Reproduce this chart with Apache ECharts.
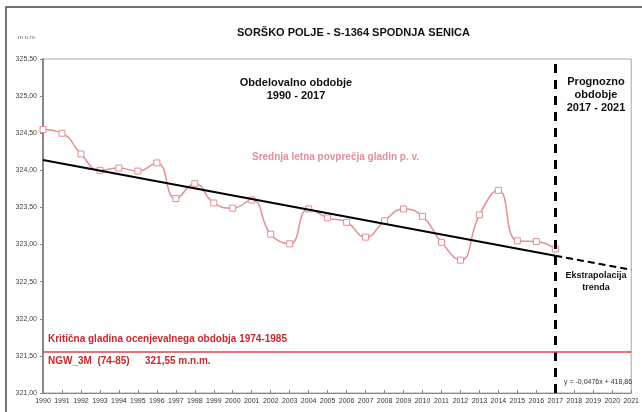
<!DOCTYPE html>
<html>
<head>
<meta charset="utf-8">
<script src="https://cdn.jsdelivr.net/npm/echarts@6/dist/echarts.min.js"></script>
<style>
  html, body { margin: 0; padding: 0; background: #fff; }
  #chart { width: 642px; height: 412px; }
</style>
</head>
<body>
<div id="chart"></div>
<script>
// yearly mean groundwater level, m n.m.
var years = [1990, 1991, 1992, 1993, 1994, 1995, 1996, 1997, 1998, 1999, 2000, 2001, 2002, 2003, 2004,
             2005, 2006, 2007, 2008, 2009, 2010, 2011, 2012, 2013, 2014, 2015, 2016, 2017];
var levels = [324.55, 324.50, 324.22, 324.00, 324.03, 323.99, 324.10, 323.62, 323.82, 323.56, 323.49, 323.60, 323.14, 323.01, 323.48,
              323.36, 323.30, 323.10, 323.32, 323.48, 323.38, 323.03, 322.79, 323.40, 323.73, 323.05, 323.04, 322.94];

// trend (y = -0,0476x + 418,86) and its extrapolation
var trendYears = [1990, 2017];
var trendValues = [324.14, 322.85];
var extYears = [2017, 2021];
var extValues = [322.85, 322.66];

var criticalLevel = 321.55;
var splitYear = 2017;

function pairs(xs, ys) {
    return xs.map(function (x, i) { return [x, ys[i]]; });
}

var font = '"Liberation Sans", Arial, sans-serif';
var pink = '#e58f95';
var red = '#c8282e';

var chart = echarts.init(document.getElementById('chart'));

var option = {
    animation: false,
    backgroundColor: '#fff',
    textStyle: { fontFamily: font },
    grid: {
        left: 43, right: 9, top: 59, bottom: 19,
        show: true, borderColor: '#a8a8a8', borderWidth: 1
    },
    xAxis: {
        type: 'value',
        min: 1990, max: 2021, interval: 1,
        splitLine: { show: false },
        axisLine: { lineStyle: { color: '#888', width: 1 } },
        axisTick: { show: true, inside: true, length: 3, lineStyle: { color: '#888' } },
        axisLabel: { fontSize: 7, color: '#333', margin: 5, formatter: function (v) { return String(v); } }
    },
    yAxis: {
        type: 'value',
        min: 321, max: 325.5, interval: 0.5,
        splitLine: { show: false },
        axisLine: { show: true, lineStyle: { color: '#888', width: 2 } },
        axisTick: { show: true, length: 3, lineStyle: { color: '#888' } },
        axisLabel: {
            fontSize: 7, color: '#444', margin: 6,
            formatter: function (v) { return v.toFixed(2).replace('.', ','); }
        }
    },
    series: [
        {
            type: 'line',
            data: pairs(trendYears, trendValues),
            symbol: 'none',
            lineStyle: { color: '#000', width: 2 },
            z: 3
        },
        {
            type: 'line',
            data: pairs(extYears, extValues),
            symbol: 'none',
            lineStyle: { color: '#000', width: 2, type: [7, 4] },
            z: 3
        },
        {
            type: 'line',
            data: pairs(years, levels),
            smooth: 0.5,
            symbol: 'rect',
            symbolSize: 6,
            itemStyle: { color: '#fff', borderColor: pink, borderWidth: 1 },
            lineStyle: { color: pink, width: 1.5 },
            z: 2,
            markLine: {
                silent: true,
                symbol: 'none',
                label: { show: false },
                data: [
                    { xAxis: splitYear, lineStyle: { color: '#000', width: 3, type: [9, 7] } },
                    { yAxis: criticalLevel, lineStyle: { color: '#d9464c', width: 1.5, type: 'solid' } }
                ]
            }
        }
    ],
    graphic: [
        { type: 'rect', shape: { x: 6, y: 7, width: 660, height: 420 }, style: { fill: 'none', stroke: '#444', lineWidth: 1.5 }, silent: true },
        { type: 'text', left: 237, top: 27, style: { text: 'SORŠKO POLJE - S-1364 SPODNJA SENICA', font: 'bold 11px ' + font, fill: '#111' } },
        { type: 'text', left: 18, top: 34, style: { text: 'm n.m.', font: '6px ' + font, fill: '#666' } },
        { type: 'text', x: 296, y: 76, style: { text: 'Obdelovalno obdobje\n1990 - 2017', font: 'bold 11px ' + font, fill: '#111', align: 'center', lineHeight: 13 } },
        { type: 'text', x: 596, y: 75, style: { text: 'Prognozno\nobdobje\n2017 - 2021', font: 'bold 11px ' + font, fill: '#111', align: 'center', lineHeight: 13 } },
        { type: 'text', left: 252, top: 152, style: { text: 'Srednja letna povprečja gladin p. v.', font: 'bold 10px ' + font, fill: pink } },
        { type: 'text', x: 596, y: 270, style: { text: 'Ekstrapolacija\ntrenda', font: 'bold 9px ' + font, fill: '#111', align: 'center', lineHeight: 12 } },
        { type: 'text', left: 48, top: 334, style: { text: 'Kritična gladina ocenjevalnega obdobja 1974-1985', font: 'bold 10px ' + font, fill: red } },
        { type: 'text', left: 48, top: 356, style: { text: 'NGW_3M  (74-85)', font: 'bold 10px ' + font, fill: red } },
        { type: 'text', left: 145, top: 356, style: { text: '321,55 m.n.m.', font: 'bold 10px ' + font, fill: red } },
        { type: 'text', left: 564, top: 379, style: { text: 'y = -0,0476x + 418,86', font: '7px ' + font, fill: '#333' } }
    ]
};

chart.setOption(option);
</script>
</body>
</html>
